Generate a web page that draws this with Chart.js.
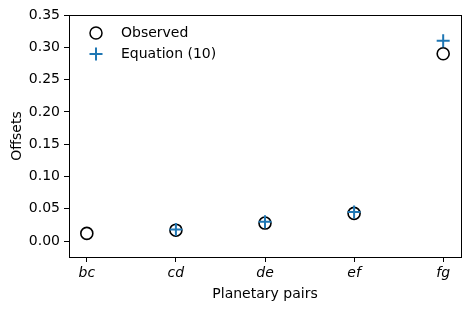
<!DOCTYPE html>
<html>
<head>
<meta charset="utf-8">
<script src="https://cdn.jsdelivr.net/npm/chart.js@4/dist/chart.umd.min.js"></script>
<style>
  html, body { margin: 0; padding: 0; background: #fff; }
  #wrap { width: 471px; height: 311px; }
</style>
</head>
<body>
<div id="wrap"><canvas id="chart"></canvas></div>
<script>
"use strict";

const pairs = ["bc", "cd", "de", "ef", "fg"];
const observed = [0.012, 0.017, 0.028, 0.043, 0.290];
const equation10 = [null, 0.018, 0.030, 0.045, 0.310];
const yTicks = [0.00, 0.05, 0.10, 0.15, 0.20, 0.25, 0.30, 0.35];

const font = "DejaVu Sans";
const fontSize = 14;

function toPoints(vals) {
  const pts = [];
  for (let i = 0; i < vals.length; i++) {
    if (vals[i] !== null) pts.push({ x: i, y: vals[i] });
  }
  return pts;
}

// frame around plot + legend inside the top-left corner
const boxAndLegend = {
  id: "boxAndLegend",
  afterDraw(chart) {
    const ctx = chart.ctx;
    const a = chart.chartArea;
    ctx.save();
    ctx.strokeStyle = "#000";
    ctx.lineWidth = 1;
    ctx.strokeRect(Math.round(a.left) + 0.5, Math.round(a.top) + 0.5,
      Math.round(a.right - a.left), Math.round(a.bottom - a.top));

    ctx.font = fontSize + "px '" + font + "'";
    ctx.fillStyle = "#000";
    ctx.textBaseline = "middle";
    // Observed
    ctx.beginPath();
    ctx.arc(96, 33, 6, 0, Math.PI * 2);
    ctx.lineWidth = 1.5;
    ctx.strokeStyle = "#000";
    ctx.stroke();
    ctx.fillText("Observed", 121, 33);
    // Equation (10)
    ctx.strokeStyle = "#1f77b4";
    ctx.lineWidth = 2;
    ctx.beginPath();
    ctx.moveTo(89.5, 54); ctx.lineTo(102.5, 54);
    ctx.moveTo(96, 47.5); ctx.lineTo(96, 60.5);
    ctx.stroke();
    ctx.fillText("Equation (10)", 121, 54);
    ctx.restore();
  }
};

const data = {
  datasets: [
    {
      label: "Observed",
      data: toPoints(observed),
      pointStyle: "circle",
      pointRadius: 6,
      pointBorderWidth: 1.6,
      pointBorderColor: "#000",
      pointBackgroundColor: "rgba(0,0,0,0)",
      showLine: false,
      order: 2
    },
    {
      label: "Equation (10)",
      data: toPoints(equation10),
      pointStyle: "cross",
      pointRadius: 6.5,
      pointBorderWidth: 2,
      pointBorderColor: "#1f77b4",
      pointBackgroundColor: "#1f77b4",
      showLine: false,
      order: 1
    }
  ]
};

const config = {
  type: "scatter",
  data: data,
  options: {
    responsive: false,
    animation: false,
    events: [],
    layout: { padding: { top: 15, right: 10, left: 0, bottom: 0 } },
    plugins: { legend: { display: false }, tooltip: { enabled: false } },
    scales: {
      x: {
        type: "linear",
        min: -0.2,
        max: 4.2,
        afterFit: s => { s.height = 54; },
        afterBuildTicks: s => { s.ticks = pairs.map((p, i) => ({ value: i })); },
        ticks: {
          includeBounds: false,
          color: "#000",
          padding: 3,
          font: { family: font, size: fontSize, style: "italic" },
          callback: v => pairs[v]
        },
        grid: { drawOnChartArea: false, drawTicks: true, tickLength: 5, color: "#000" },
        border: { display: false },
        title: {
          display: true,
          text: "Planetary pairs",
          color: "#000",
          font: { family: font, size: fontSize },
          padding: { top: 0, bottom: 8 }
        }
      },
      y: {
        min: -0.0245,
        max: 0.35,
        afterFit: s => { s.width = 69; },
        afterBuildTicks: s => { s.ticks = yTicks.map(v => ({ value: v })); },
        ticks: {
          includeBounds: false,
          color: "#000",
          padding: 4,
          font: { family: font, size: fontSize },
          callback: v => v.toFixed(2)
        },
        grid: { drawOnChartArea: false, drawTicks: true, tickLength: 5, color: "#000" },
        border: { display: false },
        title: {
          display: true,
          text: "Offsets",
          color: "#000",
          font: { family: font, size: fontSize },
          padding: { top: 8.6, bottom: 0 }
        }
      }
    }
  },
  plugins: [boxAndLegend]
};

const canvas = document.getElementById("chart");
canvas.width = 471;
canvas.height = 311;
new Chart(canvas, config);
</script>
</body>
</html>
